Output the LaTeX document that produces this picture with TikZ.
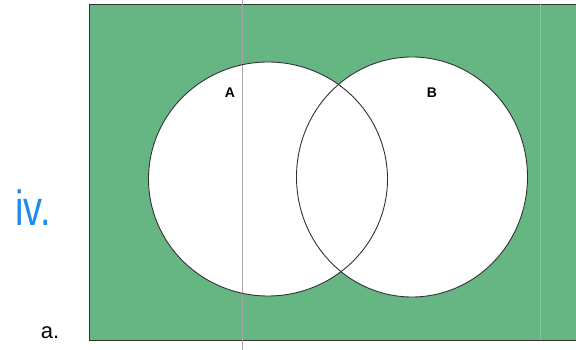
\documentclass[tikz,border=0pt]{standalone}
\usepackage{fontspec}
\setmainfont{Liberation Sans}
\usetikzlibrary{shapes.geometric}
\definecolor{venngreen}{RGB}{102,182,132}
\definecolor{outline}{RGB}{50,50,50}
\definecolor{inkblue}{RGB}{30,140,235}
\tikzset{
  setcircle/.style={ellipse, draw=outline, line width=0.9pt, inner sep=0pt, outer sep=0pt},
  setlabel/.style={font=\bfseries\fontsize{14}{14}\selectfont, inner sep=0pt},
}
\begin{document}
\begin{tikzpicture}[x=1pt,y=-1pt]
\useasboundingbox (0,0) rectangle (576,350);
\fill[white] (0,0) rectangle (576,350);
% universal set
\filldraw[fill=venngreen, draw=outline, line width=0.6pt] (89,4) rectangle (580,340);
% faint scan line
\draw[white!20!venngreen, line width=0.6pt] (540,4) -- (540,340);
% white discs
\node[setcircle, fill=white, draw=none, minimum width=239pt, minimum height=234pt] (Afill) at (268,179) {};
\node[setcircle, fill=white, draw=none, minimum width=231pt, minimum height=240pt] (Bfill) at (412,177) {};
% scan line
\draw[black!35, line width=1pt] (242,0) -- (242,350);
% outlines
\node[setcircle, minimum width=239pt, minimum height=234pt] (A) at (268,179) {};
\node[setcircle, minimum width=231pt, minimum height=240pt] (B) at (412,177) {};
\node[setlabel] (la) at (230,93) {A};
\node[setlabel] (lb) at (432,93) {B};
% handwriting and item label
\node[text=inkblue, font=\fontsize{38}{38}\selectfont, yscale=1.3, transform shape, inner sep=0pt] (iv) at (33,208) {iv.};
\node[font=\fontsize{22}{22}\selectfont, inner sep=0pt] (a) at (50,333) {a.};
\end{tikzpicture}
\end{document}
